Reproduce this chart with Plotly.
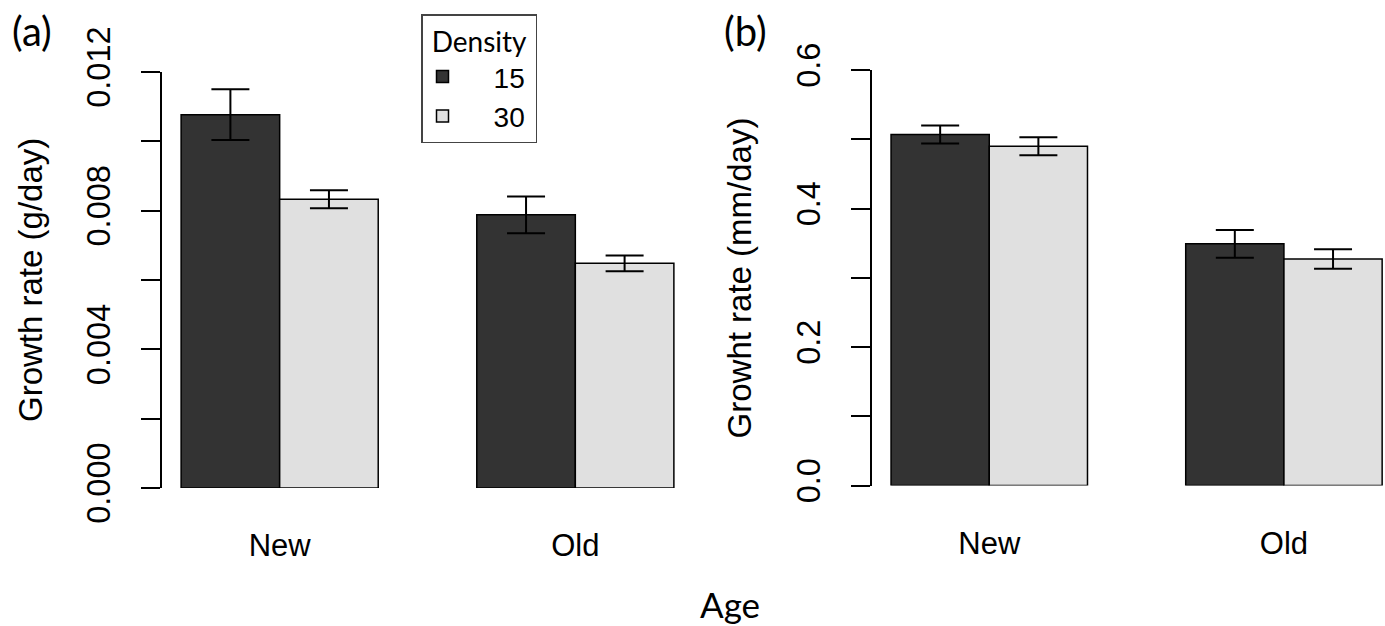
import plotly.graph_objects as go

# ---------------- data ----------------
ages = ["New", "Old"]
densities = ["15", "30"]

mass_15 = [0.01077, 0.00788]
mass_15_err = [0.00073, 0.00053]
mass_30 = [0.00833, 0.00648]
mass_30_err = [0.00026, 0.00023]

len_15 = [0.507, 0.349]
len_15_err = [0.013, 0.020]
len_30 = [0.490, 0.327]
len_30_err = [0.013, 0.014]

left_tickvals = [0.000, 0.002, 0.004, 0.006, 0.008, 0.010, 0.012]
left_ticktext = ["0.000", "", "0.004", "", "0.008", "", "0.012"]
right_tickvals = [0.0, 0.1, 0.2, 0.3, 0.4, 0.5, 0.6]
right_ticktext = ["0.0", "", "0.2", "", "0.4", "", "0.6"]

# ---------------- style ----------------
W, H = 1385, 626
DARK = "#333333"
LIGHT = "#e0e0e0"
NUM_FONT = "Liberation Sans, Arial, sans-serif"
TXT_FONT = "Lato, Open Sans, sans-serif"
PAD = "\u00a0\u00a0\u00a0\u00a0"

def px_x(p):
    return p / W

def px_y(p):
    return (H - p) / H

fig = go.Figure()

def add_bars(vals, errs, color, name, xa, ya, show):
    fig.add_trace(go.Bar(
        x=ages, y=vals, name=PAD + name, xaxis=xa, yaxis=ya,
        marker=dict(color=color, line=dict(color="black", width=1.5)),
        error_y=dict(type="data", array=errs, visible=True,
                     color="black", thickness=2, width=19),
        showlegend=show, legendgroup=name,
    ))

add_bars(mass_15, mass_15_err, DARK, densities[0], "x", "y", True)
add_bars(mass_30, mass_30_err, LIGHT, densities[1], "x", "y", True)
add_bars(len_15, len_15_err, DARK, densities[0], "x2", "y2", False)
add_bars(len_30, len_30_err, LIGHT, densities[1], "x2", "y2", False)

yaxis_common = dict(
    showline=True, linecolor="black", linewidth=1.5,
    ticks="outside", ticklen=19, tickwidth=1.5, tickcolor="black",
    tickangle=-90, showgrid=False, zeroline=False, automargin=False,
    tickfont=dict(family=NUM_FONT, size=32.5, color="black"),
    ticklabelstandoff=18,
)
xaxis_common = dict(
    type="category", showline=False, ticks="", showgrid=False, zeroline=False,
    automargin=False,
    tickfont=dict(family=NUM_FONT, size=31, color="black"),
    ticklabelstandoff=36,
)

fig.update_layout(
    template="none",
    width=W, height=H,
    margin=dict(l=0, r=0, t=0, b=0, autoexpand=False),
    paper_bgcolor="white", plot_bgcolor="white",
    barmode="group", bargap=1/3, bargroupgap=0,
    xaxis=dict(domain=[px_x(162), px_x(693)], range=[-0.398, 1.398],
               anchor="y", **xaxis_common),
    yaxis=dict(domain=[px_y(488), px_y(72)], range=[0, 0.012],
               tickvals=left_tickvals, ticktext=left_ticktext,
               anchor="x", **yaxis_common),
    xaxis2=dict(domain=[px_x(871.7), 1.0], range=[-0.399, 1.343],
                anchor="y2", **xaxis_common),
    yaxis2=dict(domain=[px_y(485.5), px_y(70)], range=[0, 0.6],
                tickvals=right_tickvals, ticktext=right_ticktext,
                anchor="x2", **yaxis_common),
    legend=dict(
        x=px_x(421), y=px_y(14), xanchor="left", yanchor="top",
        bgcolor="white", bordercolor="#444444", borderwidth=1.5,
        font=dict(family=NUM_FONT, size=28, color="black"),
        title=dict(text="\u00a0Density\u00a0", side="top",
                   font=dict(family=TXT_FONT, size=28, color="black")),
        itemwidth=30, tracegroupgap=0,
    ),
    showlegend=True,
)

annots = [
    dict(text="Growth rate (g/day)", xref="x domain", yref="y domain",
         x=0, y=0.5, xshift=-132, textangle=-90,
         font=dict(family=NUM_FONT, size=33, color="black")),
    dict(text="Growht rate (mm/day)", xref="x2 domain", yref="y2 domain",
         x=0, y=0.5, xshift=-132, textangle=-90,
         font=dict(family=NUM_FONT, size=33, color="black")),
    dict(text="(a)", xref="paper", yref="paper", x=px_x(32), y=px_y(31),
         font=dict(family=TXT_FONT, size=40, color="black")),
    dict(text="(b)", xref="paper", yref="paper", x=px_x(745), y=px_y(31),
         font=dict(family=TXT_FONT, size=40, color="black")),
    dict(text="Age", xref="paper", yref="paper", x=px_x(730), y=px_y(604),
         font=dict(family=TXT_FONT, size=35, color="black")),
]
for a in annots:
    a.setdefault("showarrow", False)
    a.setdefault("xanchor", "center")
    a.setdefault("yanchor", "middle")
fig.update_layout(annotations=annots)

fig.write_html("out.html")
